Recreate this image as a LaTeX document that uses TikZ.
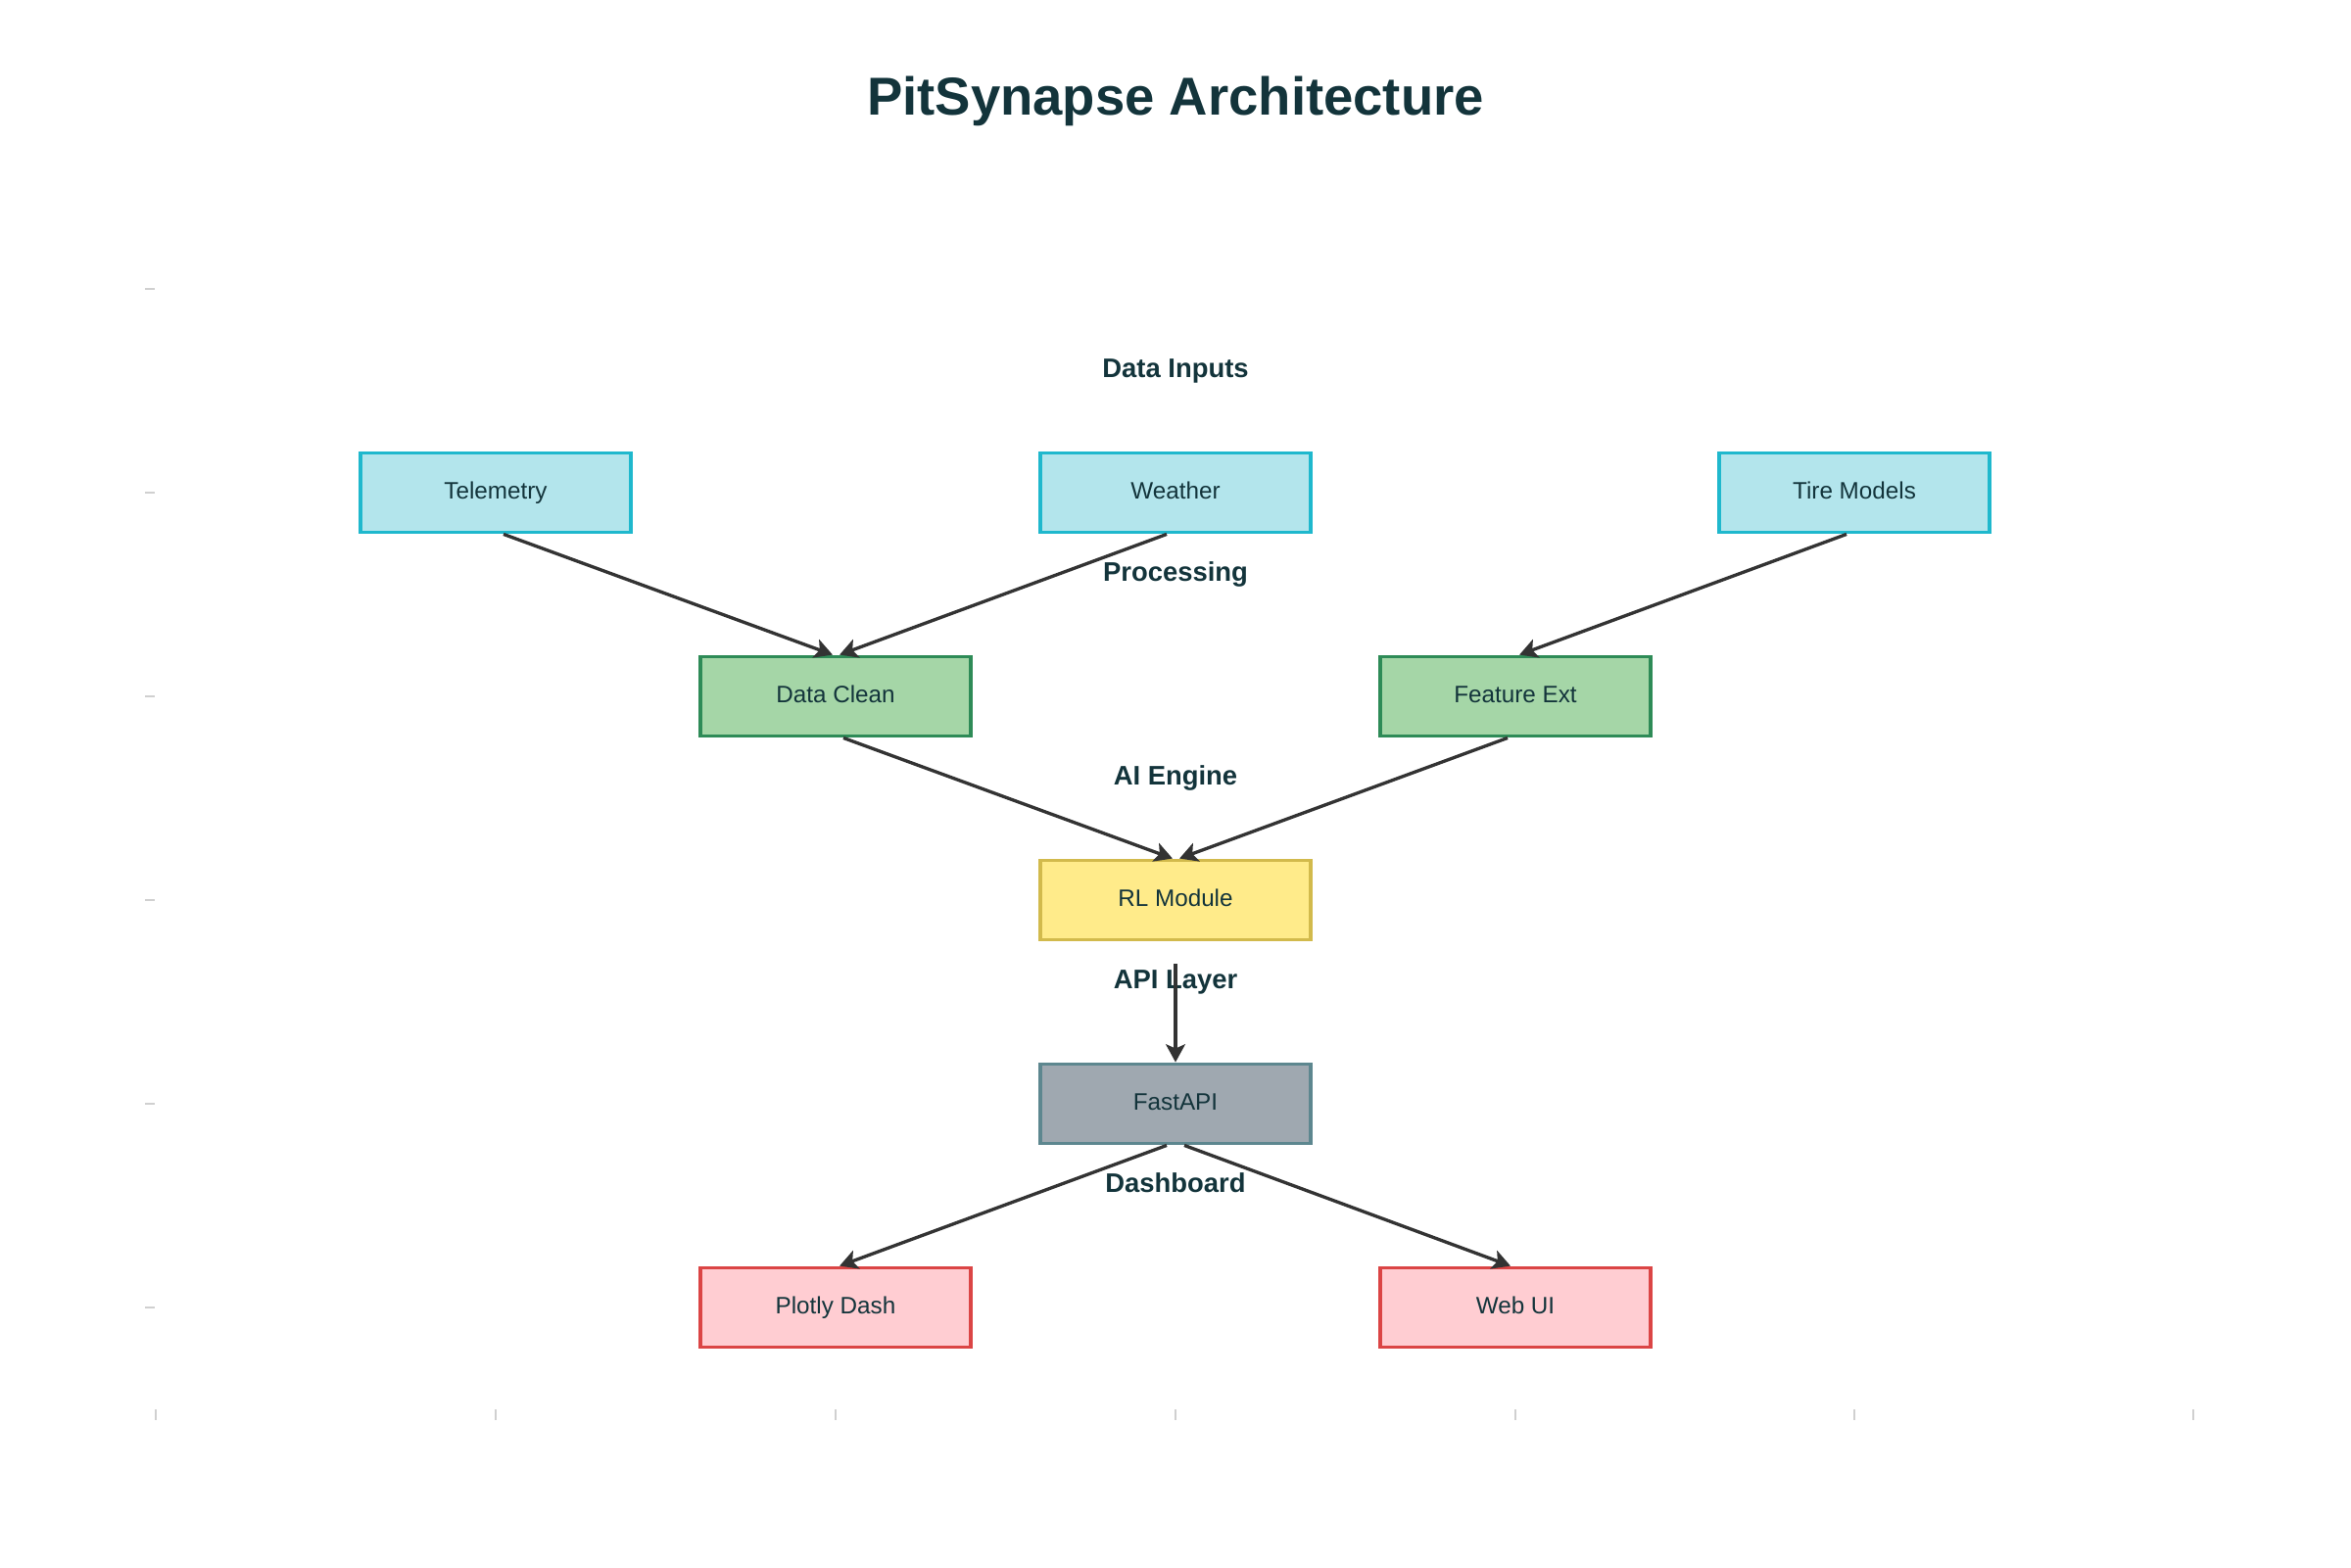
\documentclass[tikz,border=0pt]{standalone}
\usepackage{fontspec}
\setmainfont{Liberation Sans}
\usetikzlibrary{arrows.meta}
\definecolor{inkteal}{HTML}{13343B}
\definecolor{cyanfill}{HTML}{B3E5EC}
\definecolor{cyanline}{HTML}{1FB8CD}
\definecolor{greenfill}{HTML}{A5D6A7}
\definecolor{greenline}{HTML}{2E8B57}
\definecolor{yellowfill}{HTML}{FFEB8A}
\definecolor{yellowline}{HTML}{D2BA4C}
\definecolor{greyfill}{HTML}{9FA8B0}
\definecolor{greyline}{HTML}{5D878F}
\definecolor{pinkfill}{HTML}{FFCDD2}
\definecolor{pinkline}{HTML}{DB4545}
\definecolor{arrowgrey}{HTML}{333333}
\definecolor{tickgrey}{HTML}{D0D0D0}
\begin{document}
\begin{tikzpicture}[
    every node/.style={text=inkteal},
    box/.style={rectangle, draw, line width=1.1pt, minimum width=2.76cm, minimum height=0.81cm, inner sep=0pt, text height=1.3ex, text depth=0.6ex, font=\fontsize{6.9}{8}\selectfont},
    inbox/.style={box, fill=cyanfill, draw=cyanline},
    procbox/.style={box, fill=greenfill, draw=greenline},
    aibox/.style={box, fill=yellowfill, draw=yellowline},
    apibox/.style={box, fill=greyfill, draw=greyline},
    dashbox/.style={box, fill=pinkfill, draw=pinkline},
    layer/.style={font=\fontsize{7.8}{9}\selectfont\bfseries, text height=1.35ex, text depth=0.65ex},
    flow/.style={-{Stealth[length=5.2pt, width=5.6pt, inset=1.2pt]}, arrowgrey, line width=0.95pt},
    tick/.style={tickgrey, line width=0.4pt},
]
\useasboundingbox (0,0) rectangle (24,-16);

% axis ticks
\foreach \y in {2.95, 5.03, 7.11, 9.19, 11.27, 13.35}
    \draw[tick] (1.48,-\y) -- (1.58,-\y);
\foreach \x in {1.59, 5.06, 8.53, 12.00, 15.47, 18.93, 22.39}
    \draw[tick] (\x,-14.39) -- (\x,-14.50);

\node[font=\fontsize{15.5}{18}\selectfont\bfseries] (title) at (12,-1.03) {PitSynapse Architecture};

% layer labels
\node[layer] (lin) at (12,-3.79) {Data Inputs};
\node[layer] (lproc) at (12,-5.87) {Processing};
\node[layer] (lai) at (12,-7.95) {AI Engine};
\node[layer] (lapi) at (12,-10.03) {API Layer};
\node[layer] (ldash) at (12,-12.11) {Dashboard};

% boxes
\node[inbox] (tel) at (5.06,-5.03) {Telemetry};
\node[inbox] (wea) at (12,-5.03) {Weather};
\node[inbox] (tire) at (18.93,-5.03) {Tire Models};
\node[procbox] (clean) at (8.53,-7.11) {Data Clean};
\node[procbox] (feat) at (15.47,-7.11) {Feature Ext};
\node[aibox] (rl) at (12,-9.19) {RL Module};
\node[apibox] (api) at (12,-11.27) {FastAPI};
\node[dashbox] (plotly) at (8.53,-13.35) {Plotly Dash};
\node[dashbox] (web) at (15.47,-13.35) {Web UI};

% connectors
\draw[flow] ([xshift=0.08cm]tel.south) -- ([xshift=-0.03cm]clean.north);
\draw[flow] ([xshift=-0.09cm]wea.south) -- ([xshift=0.04cm]clean.north);
\draw[flow] ([xshift=-0.08cm]tire.south) -- ([xshift=0.04cm]feat.north);
\draw[flow] ([xshift=0.08cm]clean.south) -- ([xshift=-0.03cm]rl.north);
\draw[flow] ([xshift=-0.08cm]feat.south) -- ([xshift=0.04cm]rl.north);
\draw[flow] ([yshift=-0.23cm]rl.south) -- (api.north);
\draw[flow] ([xshift=-0.09cm]api.south) -- ([xshift=0.04cm]plotly.north);
\draw[flow] ([xshift=0.09cm]api.south) -- ([xshift=-0.05cm]web.north);
\end{tikzpicture}
\end{document}
